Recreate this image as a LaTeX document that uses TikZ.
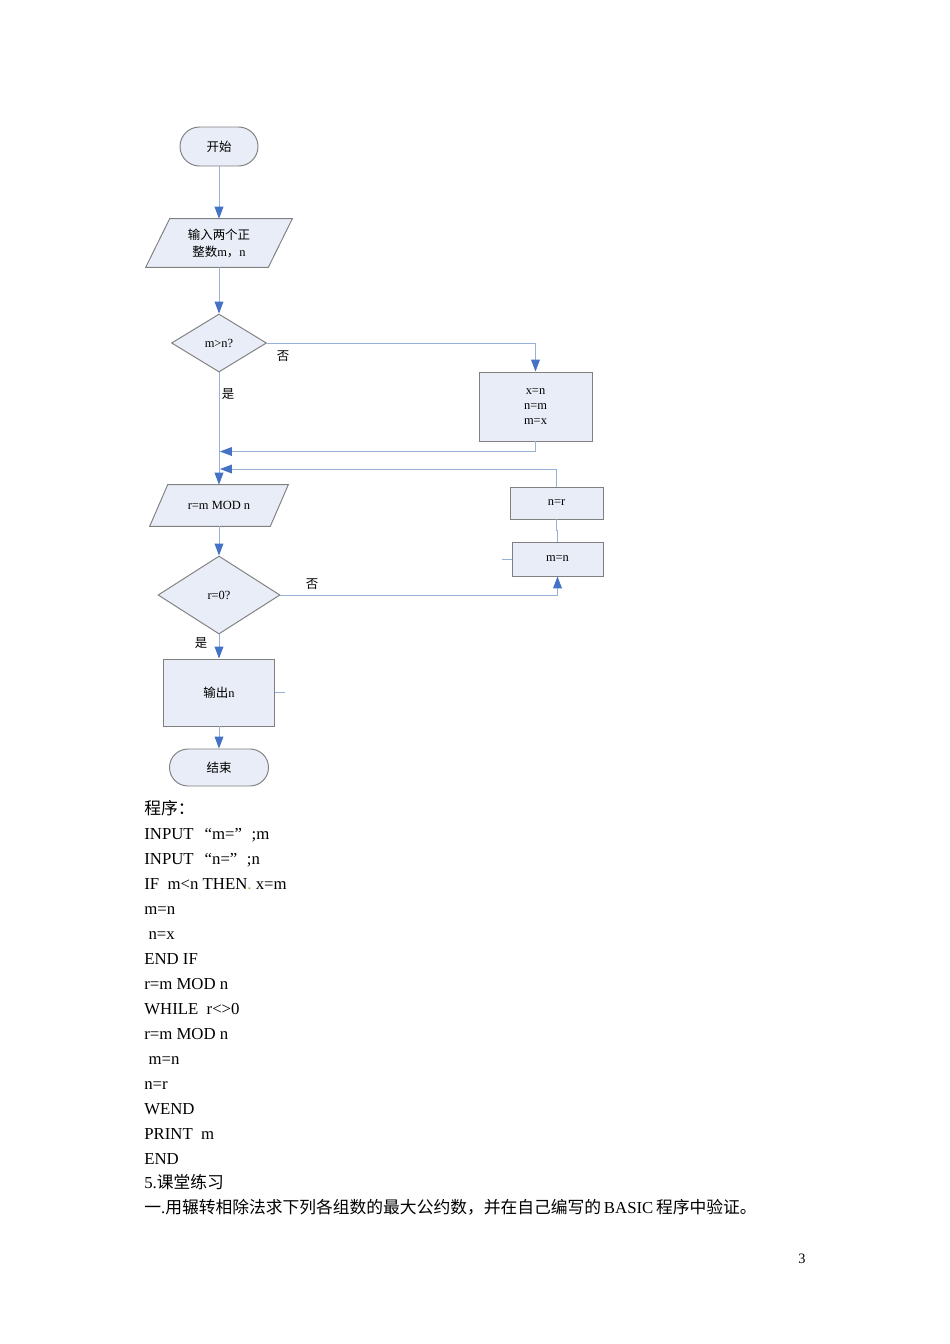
\documentclass[tikz,border=0pt]{standalone}
\usepackage{fontspec}
\setmainfont{Liberation Serif}
\newfontfamily\cjk{Noto Sans CJK SC}
\usetikzlibrary{shapes.geometric,shapes.misc,arrows.meta,calc,backgrounds}
\definecolor{boxfill}{RGB}{233,237,247}
\definecolor{boxline}{RGB}{128,128,128}
\definecolor{connblue}{RGB}{150,178,216}
\definecolor{tipblue}{RGB}{68,114,196}
\definecolor{dotcol}{RGB}{190,160,60}
\newcommand\pxl[1]{#1*0.6263pt}
\begin{document}
\begin{tikzpicture}[x=0.6263pt,y=-0.6263pt,
 fc/.style={font=\fontsize{7.8}{9.4}\selectfont},
 shapebox/.style={draw=boxline,fill=boxfill,line width=0.6pt},
 procbox/.style={shapebox,rectangle,inner sep=0pt,fc,align=center},
 termbox/.style={shapebox,rounded rectangle,inner sep=0pt,fc},
 decbox/.style={shapebox,diamond,inner sep=0pt,fc},
 iotext/.style={rectangle,inner sep=0pt,fc,align=center},
 link/.style={draw=connblue,line width=0.6pt},
 arr/.style={link,-{Triangle[length=7.5pt,width=5.5pt,color=tipblue]}},
 lbl/.style={fc,inner sep=0pt},
 body/.style={anchor=base west,inner sep=0pt,font=\fontsize{10.5}{12}\selectfont},
]
\useasboundingbox (0,0) rectangle (950,1344);

% nodes
\node[termbox,minimum width=\pxl{78},minimum height=\pxl{39}] (start) at (219,146.5) {{\cjk 开始}};
\node[iotext,minimum width=\pxl{122},minimum height=\pxl{48},font=\fontsize{7.8}{10.6}\selectfont] (in) at (219,243) {{\cjk 输入两个正}\\{\cjk 整数}m{\cjk ，}n};
\node[decbox,minimum width=\pxl{95},minimum height=\pxl{58}] (d1) at (219,343) {m>n?};
\node[procbox,minimum width=\pxl{113},minimum height=\pxl{69}] (swap) at (535.5,406.5) {x=n\\n=m\\m=x};
\node[iotext,minimum width=\pxl{120},minimum height=\pxl{41}] (mod) at (219,505.5) {r=m MOD n};
\node[decbox,minimum width=\pxl{122},minimum height=\pxl{78}] (d2) at (219,595) {r=0?};
\node[procbox,minimum width=\pxl{93},minimum height=\pxl{32}] (nr) at (556.5,503) {n=r};
\node[procbox,minimum width=\pxl{91},minimum height=\pxl{34}] (mn) at (557.5,559) {m=n};
\node[procbox,minimum width=\pxl{111},minimum height=\pxl{67}] (out) at (219,692.5) {{\cjk 输出}n};
\node[termbox,minimum width=\pxl{99},minimum height=\pxl{37}] (stop) at (219,767.5) {{\cjk 结束}};

\begin{scope}[on background layer]
\fill[white] (0,0) rectangle (950,1344);
\draw[shapebox] ($(in.north west)+(12,0)$) -- ($(in.north east)+(12,0)$) -- ($(in.south east)+(-12,0)$) -- ($(in.south west)+(-12,0)$) -- cycle;
\draw[shapebox] ($(mod.north west)+(9,0)$) -- ($(mod.north east)+(9,0)$) -- ($(mod.south east)+(-9,0)$) -- ($(mod.south west)+(-9,0)$) -- cycle;
\end{scope}

% connectors
\coordinate (j1) at (220,451.5);
\coordinate (j2) at (220,469);
\coordinate (s1) at (502,559);
\coordinate (s2) at (285,692.5);
\draw[arr] (start.south) -- (in.north);
\draw[arr] (in.south) -- (d1.north);
\draw[arr] (d1.east) -| (swap.north);
\draw[arr] (swap.south) |- (j1);
\draw[arr] (nr.north) |- (j2);
\draw[arr] (d1.south) -- (mod.north);
\draw[arr] (mod.south) -- (d2.north);
\draw[arr] (d2.east) -| (mn.south);
\draw[link] (nr.south) -- ++(0,11) -| (mn.north);
\draw[link] (mn.west) -- (s1);
\draw[link] (out.east) -- (s2);
\draw[arr] (d2.south) -- (out.north);
\draw[arr] (out.south) -- (stop.north);

% labels
\node[lbl] (no1) at (283,356) {{\cjk 否}};
\node[lbl] (yes1) at (228,394) {{\cjk 是}};
\node[lbl] (no2) at (312,584) {{\cjk 否}};
\node[lbl] (yes2) at (201,643) {{\cjk 是}};

% program text
\node[body] (t0) at (144,814) {{\cjk 程序：}};
\node[body] (t1) at (144,839) {INPUT\hspace{6.9pt}“m=”\hspace{6pt};m};
\node[body] (t2) at (144,864) {INPUT\hspace{6.9pt}“n=”\hspace{6pt};n};
\node[body] (t3) at (144,889) {IF\ \ m<n THEN{\color{dotcol}.}\ x=m};
\node[body] (t4) at (144,914) {m=n};
\node[body] (t5) at (144,939) {\ n=x};
\node[body] (t6) at (144,964) {END IF};
\node[body] (t7) at (144,989) {r=m MOD n};
\node[body] (t8) at (144,1014) {WHILE\ \ r<>0};
\node[body] (t9) at (144,1039) {r=m MOD n};
\node[body] (t10) at (144,1064) {\ m=n};
\node[body] (t11) at (144,1089) {n=r};
\node[body] (t12) at (144,1114) {WEND};
\node[body] (t13) at (144,1139) {PRINT\ \ m};
\node[body] (t14) at (144,1164) {END};
\node[body] (t15) at (144,1188) {5.{\cjk 课堂练习}};
\node[body] (t16) at (144,1213) {{\cjk 一}.{\cjk 用辗转相除法求下列各组数的最大公约数，并在自己编写的}\,BASIC\,{\cjk 程序中验证。}};
\node[anchor=base,inner sep=0pt,font=\fontsize{9}{10}\selectfont] (pg) at (802,1263) {3};
\end{tikzpicture}
\end{document}
